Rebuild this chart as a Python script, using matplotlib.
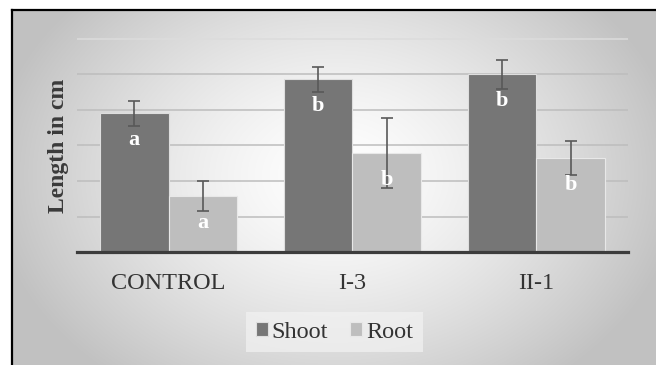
import numpy as np
import matplotlib
matplotlib.use("Agg")
from matplotlib import pyplot as plt
from matplotlib.lines import Line2D

plt.rcParams["font.family"] = ["Liberation Serif", "DejaVu Serif"]

# data (grid units, one per gridline)
groups = ["CONTROL", "I-3", "II-1"]
shoot = [3.90, 4.86, 5.00]
shoot_err = [0.36, 0.35, 0.40]
root = [1.58, 2.79, 2.65]
root_err = [0.42, 0.98, 0.47]
shoot_letters = ["a", "b", "b"]
root_letters = ["a", "b", "b"]

W, H = 656, 365
fig = plt.figure(figsize=(W / 100, H / 100), dpi=100)

# radial gradient background inside the frame
bg = fig.add_axes([0, 0, 1, 1], zorder=-10)
yy, xx = np.mgrid[0:H, 0:W]
r = np.sqrt(((xx - 335) / 345.0) ** 2 + ((yy - 175) / 260.0) ** 2)
shade = 1 - 0.24 * np.clip(r, 0, 1) ** 1.4
img = np.dstack([shade, shade, shade])
img[:, :11] = 1
img[:9, :] = 1
bg.imshow(img, extent=[0, 1, 0, 1], aspect="auto", origin="upper", interpolation="bilinear")
bg.axis("off")

# black frame, top and left
fig.add_artist(Line2D([11.5 / W, 11.5 / W], [0, 1 - 9.5 / H], transform=fig.transFigure,
                      color="black", lw=1.6, solid_capstyle="projecting"))
fig.add_artist(Line2D([11.5 / W, 1], [1 - 9.5 / H, 1 - 9.5 / H], transform=fig.transFigure,
                      color="black", lw=1.6, solid_capstyle="projecting"))

ax = fig.add_axes([76.6 / W, (H - 252.3) / H, (628.4 - 76.6) / W, 214.7 / H])
ax.set_facecolor("none")

x = np.arange(len(groups))
bw = 0.373
err_kw = dict(ecolor="#595959", elinewidth=1.2, capsize=4.3, capthick=1.2)
b1 = ax.bar(x - bw / 2, shoot, bw, yerr=shoot_err, color="#767676", edgecolor="#dedede",
            linewidth=0.8, error_kw=err_kw, label="Shoot", zorder=3)
b2 = ax.bar(x + bw / 2, root, bw, yerr=root_err, color="#bebebe", edgecolor="#e8e8e8",
            linewidth=0.8, error_kw=err_kw, label="Root", zorder=3)

for bars, letters in [(b1, shoot_letters), (b2, root_letters)]:
    for rect, lt in zip(bars, letters):
        ax.annotate(lt, (rect.get_x() + rect.get_width() / 2, rect.get_height()),
                    xytext=(0, -27), textcoords="offset pixels", ha="center", va="center",
                    color="white", fontsize=16, fontweight="bold", zorder=5)

ax.set_xlim(-0.5, 2.5)
ax.set_ylim(0, 6.03)
ax.set_yticks(range(1, 7))
ax.yaxis.grid(True, color="#bdbdbd", lw=1.1, zorder=0)
ax.get_ygridlines()[-1].set_color("#dcdcdc")
ax.tick_params(axis="y", left=False, labelleft=False)
ax.set_xticks(x)
ax.set_xticklabels(groups, fontsize=17.5, color="#333333")
ax.tick_params(axis="x", length=0, pad=15)
for s in ["top", "right", "left"]:
    ax.spines[s].set_visible(False)
ax.spines["bottom"].set_color("#3c3c3c")
ax.spines["bottom"].set_linewidth(2.3)
ax.spines["bottom"].set_zorder(4)

fig.text(58.6 / W, 1 - 145.5 / H, "Length in cm", rotation=90, ha="center", va="center",
         fontsize=17, fontweight="bold", color="#3a3a3a")

leg = fig.legend(loc="center", bbox_to_anchor=(334.5 / W, 1 - 332 / H), ncol=2, frameon=True,
                 fontsize=17.5, handlelength=0.5, handleheight=0.5, handletextpad=0.15,
                 columnspacing=0.9, borderpad=0.4, labelcolor="#333333")
leg.get_frame().set_facecolor("#f2f2f2")
leg.get_frame().set_alpha(0.7)
leg.get_frame().set_edgecolor("none")
leg.get_frame().set_boxstyle("square", pad=0)

fig.savefig("out.png", dpi=100)
